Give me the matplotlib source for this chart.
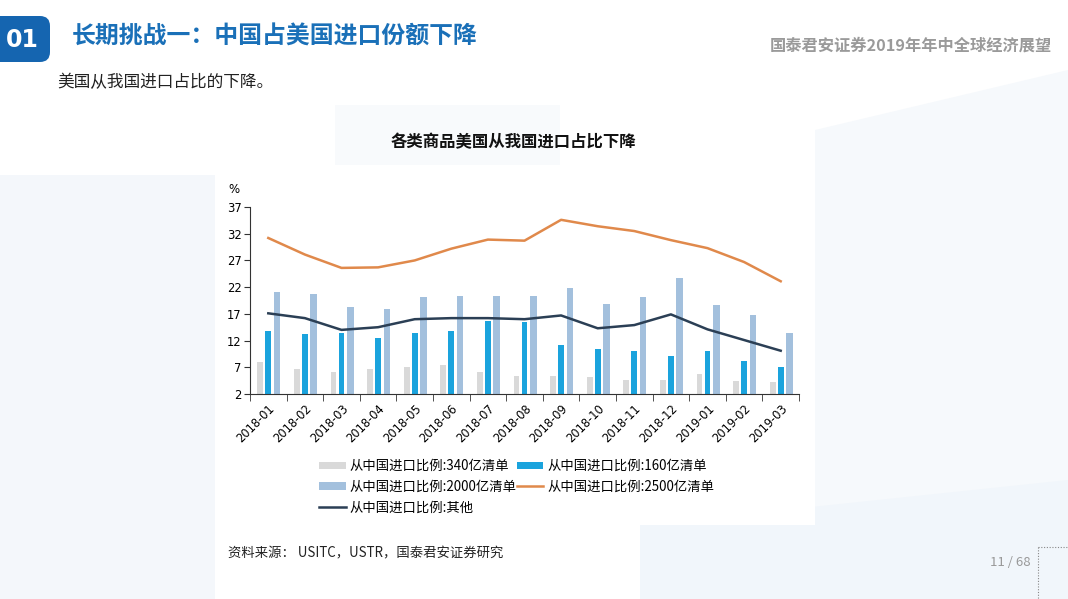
import matplotlib
matplotlib.use('Agg')
from matplotlib import pyplot as plt
from matplotlib.patches import Polygon, FancyBboxPatch, Rectangle
import numpy as np

plt.rcParams['font.family'] = ['Noto Sans CJK SC', 'DejaVu Sans']

months = ['2018-01', '2018-02', '2018-03', '2018-04', '2018-05', '2018-06', '2018-07', '2018-08',
          '2018-09', '2018-10', '2018-11', '2018-12', '2019-01', '2019-02', '2019-03']
list_340 = [7.9, 6.7, 6.1, 6.7, 7.1, 7.5, 6.2, 5.4, 5.4, 5.1, 4.7, 4.7, 5.8, 4.5, 4.3]
list_160 = [13.7, 13.2, 13.4, 12.4, 13.5, 13.7, 15.6, 15.4, 11.1, 10.5, 10.1, 9.2, 10.1, 8.2, 7.1]
list_2000 = [21.0, 20.8, 18.2, 18.0, 20.1, 20.3, 20.4, 20.4, 21.9, 18.9, 20.1, 23.8, 18.6, 16.7, 13.5]
list_2500 = [31.2, 28.1, 25.6, 25.7, 27.0, 29.2, 30.9, 30.7, 34.6, 33.4, 32.5, 30.8, 29.3, 26.7, 23.1]
other = [17.1, 16.2, 14.0, 14.5, 16.0, 16.2, 16.2, 16.0, 16.7, 14.3, 14.9, 16.9, 14.1, 12.1, 10.1]
y_ticks = [2, 7, 12, 17, 22, 27, 32, 37]

W, H = 1068, 599
fig = plt.figure(figsize=(W / 100, H / 100), dpi=100)
fig.patch.set_facecolor('white')

# faint background shapes of the slide
bg = fig.add_axes([0, 0, 1, 1], zorder=-10)
bg.set_xlim(0, W)
bg.set_ylim(H, 0)
bg.axis('off')
bg.add_patch(Polygon([(0, 175), (215, 175), (215, 599), (0, 599)], color='#f4f7fb', lw=0))
bg.add_patch(Polygon([(815, 130), (1068, 70), (1068, 599), (815, 599)], color='#f6f9fc', lw=0))
bg.add_patch(Polygon([(335, 105), (560, 105), (560, 165), (335, 165)], color='#f8fafc', lw=0))
bg.add_patch(Polygon([(640, 525), (1068, 480), (1068, 599), (640, 599)], color='#f1f6fb', lw=0))
bg.add_patch(Rectangle((215, 165), 600, 360, color='white', lw=0))

# header tab
bg.add_patch(FancyBboxPatch((-20, 16), 70, 46, boxstyle='round,pad=0,rounding_size=10',
                            color='#1565b0', lw=0))
bg.text(22, 40, '01', color='white', fontsize=17, fontweight='bold', ha='center', va='center',
        family='DejaVu Sans')
bg.text(72, 37, '长期挑战一：中国占美国进口份额下降', color='#1a70b8', fontsize=17.2,
        fontweight='bold', ha='left', va='center')
bg.text(1052, 46, '国泰君安证券2019年年中全球经济展望', color='#9a9a9a', fontsize=11.7,
        fontweight='bold', ha='right', va='center')
bg.text(57, 83, '美国从我国进口占比的下降。', color='#222222', fontsize=12,
        ha='left', va='center')
bg.text(513, 142, '各类商品美国从我国进口占比下降', color='#111111', fontsize=11.8,
        fontweight='bold', ha='center', va='center')
bg.text(228, 553, '资料来源： USITC，USTR，国泰君安证券研究', color='#222222', fontsize=9.6,
        ha='left', va='center')
bg.text(1031, 562, '11 / 68', color='#999999', fontsize=9.5, ha='right', va='center')
bg.plot([1038, 1038], [547, 599], color='#888888', lw=0.8, ls=(0, (1, 1.5)))
bg.plot([1038, 1068], [547, 547], color='#888888', lw=0.8, ls=(0, (1, 1.5)))

# chart
ax = fig.add_axes([250 / W, 1 - 394 / H, 549 / W, 187 / H])
x = np.arange(len(months))
bw = 0.16
b340 = ax.bar(x - 0.22, np.array(list_340) - 2, bw, bottom=2, color='#d9d9d9', zorder=2)
b160 = ax.bar(x, np.array(list_160) - 2, bw, bottom=2, color='#1aa3dd', zorder=2)
b2000 = ax.bar(x + 0.24, np.array(list_2000) - 2, bw + 0.02, bottom=2, color='#a3c0dd', zorder=2)
l2500, = ax.plot(x, list_2500, color='#e0894b', lw=1.8, zorder=3)
loth, = ax.plot(x, other, color='#2b3f55', lw=1.8, zorder=3)

ax.set_xlim(-0.5, len(months) - 0.5)
ax.set_ylim(2, 37)
ax.set_yticks(y_ticks)
ax.set_yticklabels([str(v) for v in y_ticks], fontsize=8.3, family='DejaVu Sans')
ax.set_xticks(x)
ax.set_xticklabels(months, rotation=45, ha='right', rotation_mode='anchor', fontsize=8.3,
                   family='DejaVu Sans')
ax.tick_params(axis='x', length=0, pad=6)
ax.set_xticks(np.arange(len(months) + 1) - 0.5, minor=True)
ax.tick_params(axis='x', which='minor', length=5, color='#333333')
ax.tick_params(axis='y', length=4, color='#333333', pad=2)
for s in ['top', 'right']:
    ax.spines[s].set_visible(False)
for s in ['left', 'bottom']:
    ax.spines[s].set_color('#333333')
    ax.spines[s].set_linewidth(0.8)
ax.set_facecolor('none')
ax.text(-0.03, 1.06, '%', transform=ax.transAxes, fontsize=8.5, ha='center', va='bottom',
        family='DejaVu Sans')

# column-major fill: col 1 = 340, 2000, other; col 2 = 160, 2500
handles = [b340, b2000, loth, b160, l2500]
labels = ['从中国进口比例:340亿清单', '从中国进口比例:2000亿清单', '从中国进口比例:其他',
          '从中国进口比例:160亿清单', '从中国进口比例:2500亿清单']
fig.legend(handles, labels, ncol=2, loc='upper left', bbox_to_anchor=(307 / W, 1 - 447 / H),
           frameon=False, fontsize=9.6, handlelength=2.0, handleheight=0.45, columnspacing=0.0,
           labelspacing=0.5, handletextpad=0.3)

fig.savefig('out.png', dpi=100)
